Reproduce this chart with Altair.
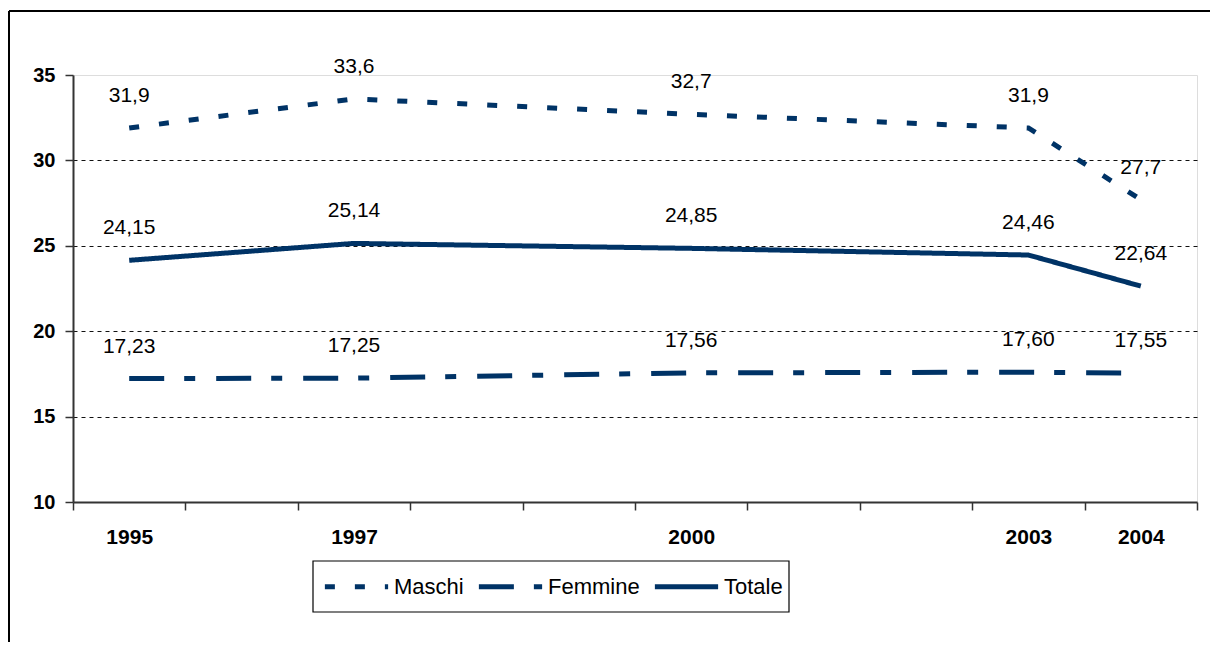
import altair as alt
import pandas as pd

# ---- data ----
years = ["1995", "1996", "1997", "1998", "1999", "2000", "2001", "2002", "2003", "2004"]
shown_years = ["1995", "1997", "2000", "2003", "2004"]
data_years = ["1995", "1997", "2000", "2003", "2004"]
series_names = ["Maschi", "Femmine", "Totale"]
maschi = [31.9, 33.6, 32.7, 31.9, 27.7]
femmine = [17.23, 17.25, 17.56, 17.60, 17.55]
totale = [24.15, 25.14, 24.85, 24.46, 22.64]
decimals = [1, 2, 2]
y_ticks = [10, 15, 20, 25, 30, 35]

rows = []
for name, vals, dec in zip(series_names, [maschi, femmine, totale], decimals):
    for yr, v in zip(data_years, vals):
        rows.append({
            "series": name,
            "year": yr,
            "pos": years.index(yr) + 0.5,
            "value": v,
            "label": f"{v:.{dec}f}".replace(".", ","),
        })
df = pd.DataFrame(rows)

NAVY = "#003366"
FONT = "Arial, Liberation Sans, sans-serif"
W, H = 1124, 427

tick_labels = [y if y in shown_years else "" for y in years]
label_expr = "[" + ",".join("'" + t + "'" for t in tick_labels) + "][datum.value] || ''"

x_enc = alt.X(
    "pos:Q",
    scale=alt.Scale(domain=[0, len(years)], nice=False, zero=False),
    axis=alt.Axis(
        values=list(range(len(years) + 1)),
        labelExpr=label_expr,
        labelOffset=W / len(years) / 2,
        labelFlush=False,
        labelOverlap=False,
        labelBound=False,
        labelFontSize=21,
        labelFontWeight="bold",
        labelFont=FONT,
        labelColor="black",
        labelPadding=16,
        tickSize=8,
        tickColor="#333",
        tickWidth=1.5,
        domainColor="#333",
        domainWidth=2,
        grid=False,
        title=None,
    ),
)
y_enc = alt.Y(
    "value:Q",
    scale=alt.Scale(domain=[10, 35], nice=False, zero=False),
    axis=alt.Axis(
        values=y_ticks,
        labelFontSize=20,
        labelFontWeight="bold",
        labelFont=FONT,
        labelColor="black",
        labelPadding=10,
        tickSize=8,
        tickColor="#333",
        tickWidth=1.5,
        domainColor="#333",
        domainWidth=2,
        grid=True,
        gridColor="#111",
        gridDash=[4, 4],
        gridWidth=1,
        gridOpacity={"condition": {"test": "datum.value == 10 || datum.value == 35", "value": 0}, "value": 1},
        title=None,
    ),
)

lines = alt.Chart(df).mark_line(strokeWidth=5, color=NAVY, strokeCap="butt").encode(
    x=x_enc,
    y=y_enc,
    strokeDash=alt.StrokeDash(
        "series:N",
        scale=alt.Scale(domain=series_names, range=[[10, 20], [35, 20, 11, 21], [1, 0]]),
        legend=alt.Legend(
            title=None,
            orient="none",
            legendX=249,
            legendY=477,
            direction="horizontal",
            padding=0,
            labelFontSize=22,
            labelFont=FONT,
            labelColor="black",
            symbolType="stroke",
            symbolStrokeWidth=5,
            symbolStrokeColor=NAVY,
            symbolSize=4000,
            columnPadding=4,
            labelOffset=3,
        ),
    ),
)

labels = alt.Chart(df).mark_text(
    fontSize=21, font=FONT, color="black", dy=-26, baseline="alphabetic", align="center"
).encode(x="pos:Q", y="value:Q", text="label:N")

frame = alt.Data(values=[{"k": 1}])
left_border = alt.Chart(frame).mark_rule(color="black", strokeWidth=2).encode(
    x=alt.value(-64), y=alt.value(-64), y2=alt.value(H + 200)
)
top_border = alt.Chart(frame).mark_rule(color="black", strokeWidth=2).encode(
    x=alt.value(-64), x2=alt.value(W + 100), y=alt.value(-64)
)
legend_box = alt.Chart(frame).mark_rect(fill="white", fillOpacity=0, stroke="black", strokeWidth=1.2).encode(
    x=alt.value(240), x2=alt.value(716), y=alt.value(486), y2=alt.value(537)
)

chart = alt.layer(legend_box, lines, labels, left_border, top_border).properties(
    width=W,
    height=H,
    autosize=alt.AutoSizeParams(type="none"),
    padding={"left": 65, "top": 67, "right": 13, "bottom": 140},
).configure_view(stroke="#888", strokeWidth=2).configure(font=FONT)

chart.save("out.html", embed_options={"renderer": "svg", "actions": False})
